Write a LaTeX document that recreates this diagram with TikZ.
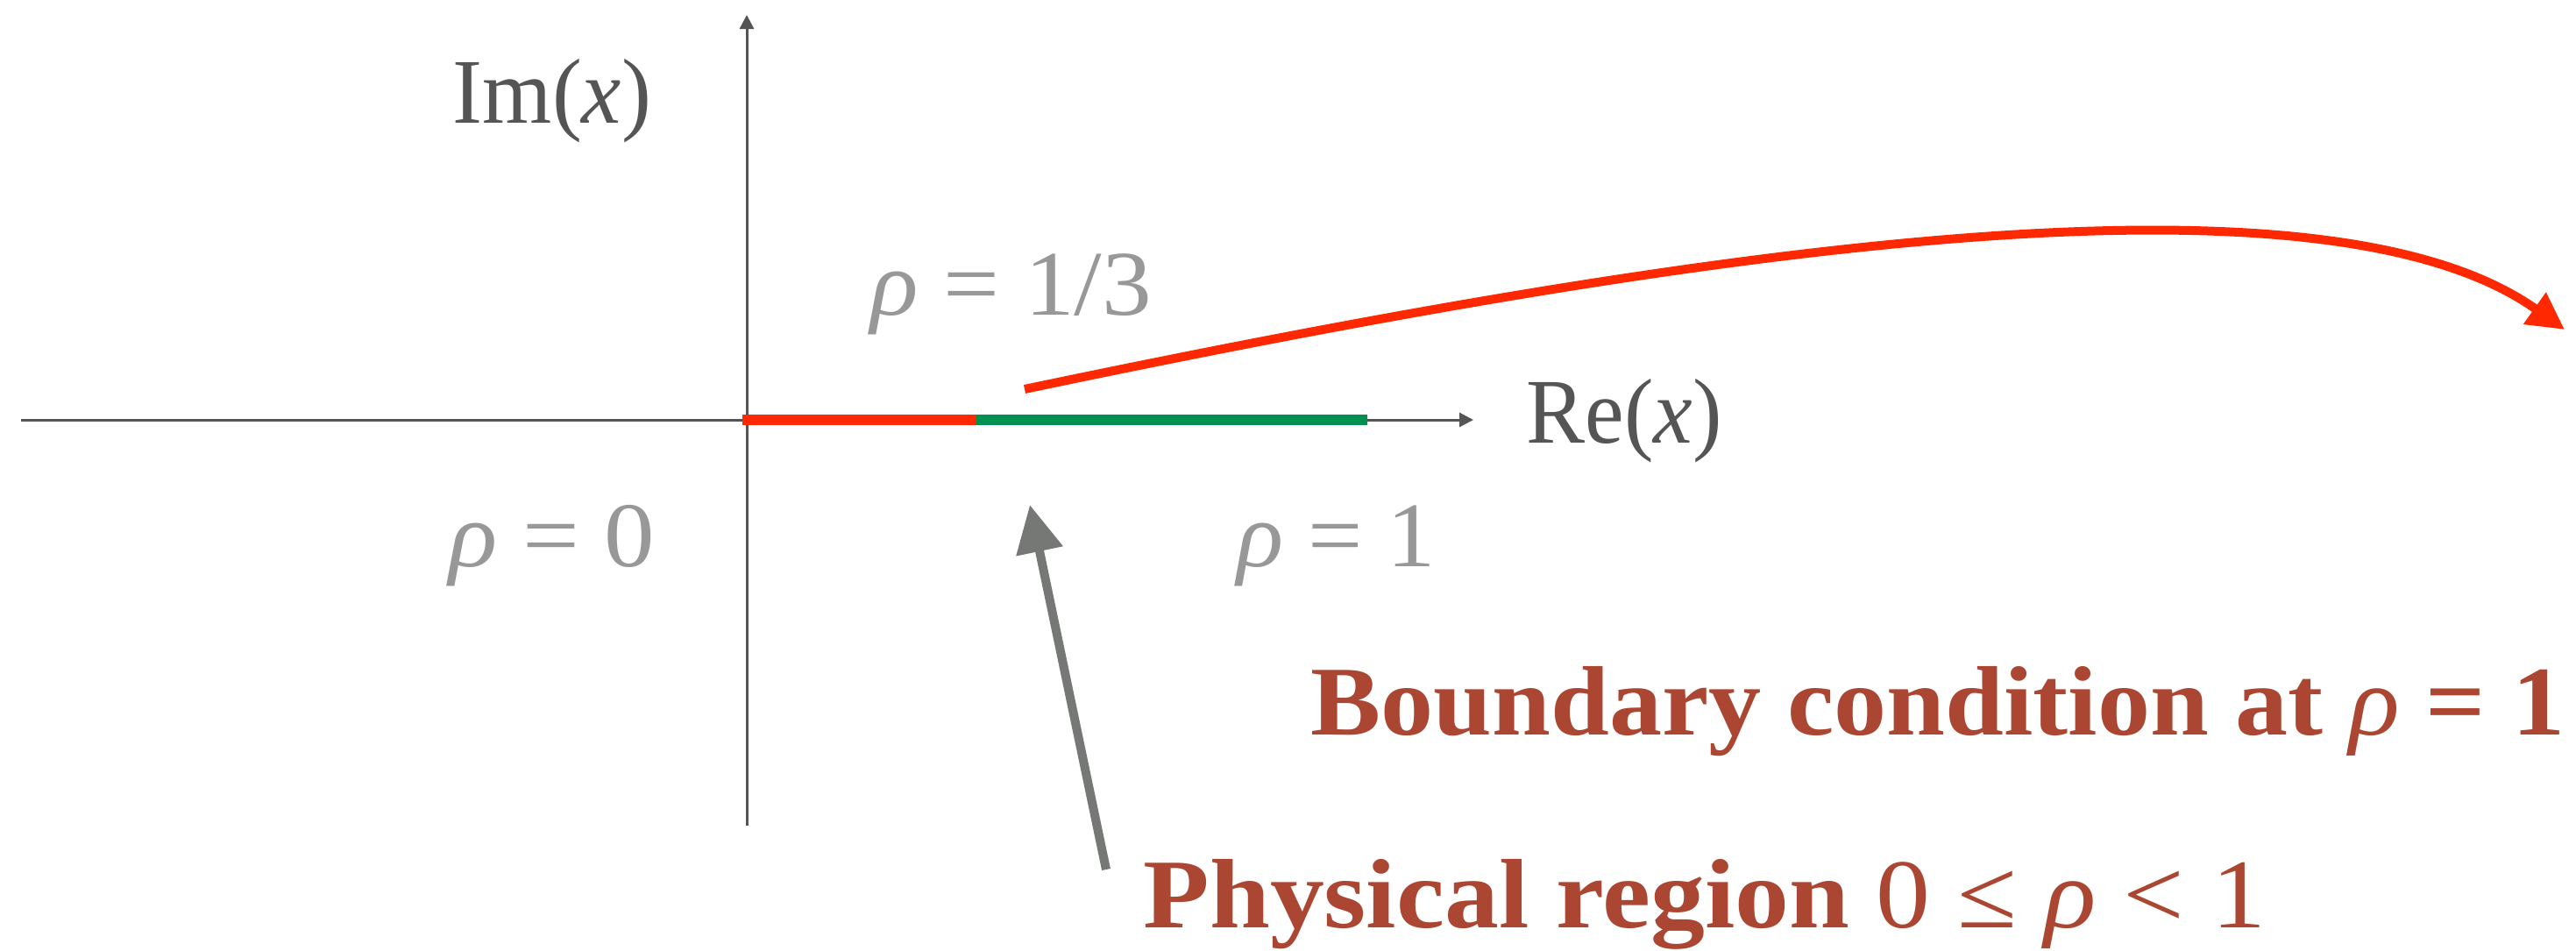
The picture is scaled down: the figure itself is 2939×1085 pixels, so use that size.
\documentclass[tikz,border=0pt]{standalone}
\usepackage{fontspec}
\setmainfont{Liberation Serif}
\usetikzlibrary{arrows.meta}
\definecolor{axisgray}{HTML}{555555}
\definecolor{lblgray}{HTML}{989898}
\definecolor{arrgray}{HTML}{767876}
\definecolor{segred}{HTML}{FF2800}
\definecolor{seggreen}{HTML}{009150}
\definecolor{txtred}{HTML}{AA4631}
\begin{document}
\begin{tikzpicture}[x=0.01cm,y=-0.01cm,
  axis/.style={draw=axisgray, line width=0.03cm, -{Triangle[length=0.16cm,width=0.16cm]}},
  seg/.style={line width=0.11cm, line cap=butt},
  axlbl/.style={inner sep=0pt, anchor=base, text=axisgray, font=\fontsize{30pt}{36pt}\selectfont},
  rholbl/.style={inner sep=0pt, anchor=base, text=lblgray, font=\fontsize{30pt}{36pt}\selectfont},
  bigred/.style={inner sep=0pt, anchor=base, text=txtred, font=\fontsize{32pt}{38pt}\selectfont\bfseries},
  redarrow/.style={draw=segred, line width=0.1cm, -{Triangle[length=0.42cm,width=0.42cm]}},
  grayarrow/.style={draw=arrgray, line width=0.1cm, -{Triangle[length=0.54cm,width=0.52cm]}}]
\useasboundingbox (0,0) rectangle (2939,1085);
% axes
\coordinate (xl) at (24,479);
\coordinate (xr) at (1681,479);
\coordinate (yb) at (852,942);
\coordinate (yt) at (852,17);
\draw[axis] (xl) -- (xr);
\draw[axis] (yb) -- (yt);
% segments
\coordinate (o) at (847,479);
\coordinate (third) at (1114,479);
\coordinate (one) at (1560,479);
\draw[seg, draw=segred] (o) -- (third);
\draw[seg, draw=seggreen] (third) -- (one);
% labels
\node[axlbl] (im) at (630,140) {\resizebox{2.26cm}{\height}{Im(\textit{x})}};
\node[axlbl] (re) at (1853,505) {\resizebox{2.23cm}{\height}{Re(\textit{x})}};
\node[rholbl] (r13) at (1154,360) {\resizebox{3.2cm}{\height}{\textit{ρ} = 1/3}};
\node[rholbl] (r0) at (630,646) {\resizebox{2.35cm}{\height}{\textit{ρ} = 0}};
\node[rholbl] (r1) at (1525,646) {\resizebox{2.26cm}{\height}{\textit{ρ} = 1}};
\node[bigred] (bc) at (2211,838) {\resizebox{14.3cm}{\height}{Boundary condition at \textnormal{\textit{ρ}} = 1}};
\node[bigred] (pr) at (1945,1058) {\resizebox{12.8cm}{\height}{Physical region \textnormal{0 ≤ \textit{ρ} < 1}}};
% red curved arrow
\coordinate (cs) at (1169,444);
\coordinate (ce) at (2926,376);
\draw[redarrow] (cs) .. controls (1950,280) and (2650,180) .. (ce);
% gray arrow
\coordinate (gt) at (1262,992);
\coordinate (gh) at (1175,576);
\draw[grayarrow] (gt) -- (gh);
\end{tikzpicture}
\end{document}
